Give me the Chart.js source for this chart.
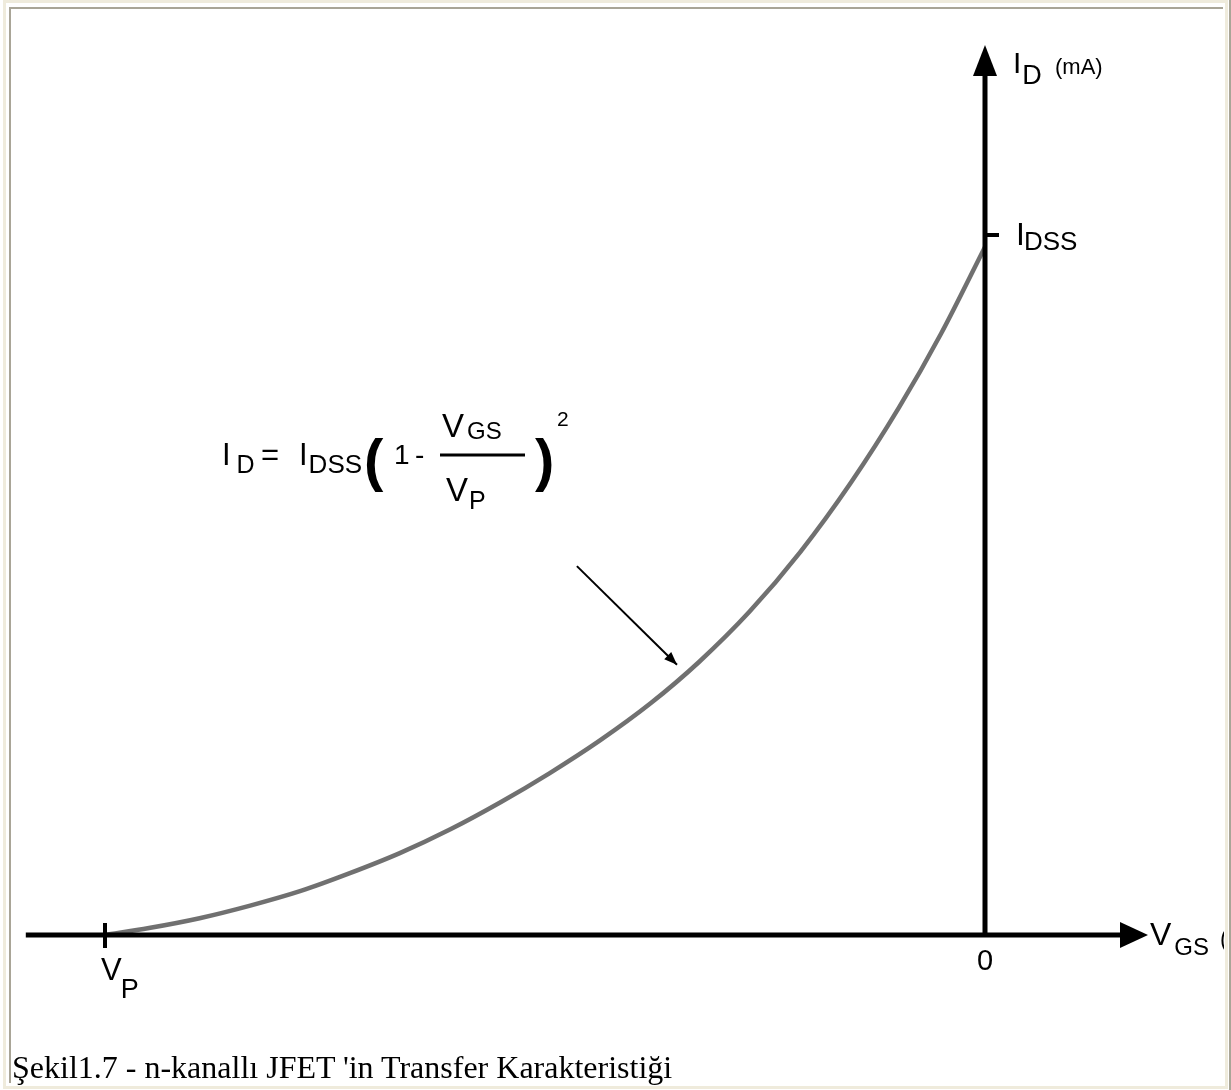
<!DOCTYPE html>
<html>
<head>
<meta charset="utf-8">
<script src="https://cdn.jsdelivr.net/npm/chart.js@4.4.1/dist/chart.umd.min.js"></script>
<style>
  html, body { margin: 0; padding: 0; background: #fff; }
  #wrap { position: relative; width: 1231px; height: 1090px; overflow: hidden; }
  #jfet { position: absolute; left: 0; top: 0; }
  .b { position: absolute; }
  #caption {
    position: absolute; left: 12px; top: 1049px;
    font-family: "Liberation Serif", "Times New Roman", serif;
    font-size: 32px; color: #000; white-space: nowrap;
  }
</style>
</head>
<body>
<div id="wrap">
  <canvas id="jfet" width="1231" height="1090"></canvas>
  <!-- frame -->
  <div class="b" style="left:3px;top:0;width:1225px;height:3px;background:#efebdc"></div>
  <div class="b" style="left:3px;top:0;width:3px;height:1089px;background:#efebdc"></div>
  <div class="b" style="left:9px;top:7px;width:1214px;height:2px;background:#a9a597"></div>
  <div class="b" style="left:9px;top:7px;width:2px;height:1076px;background:#a9a597"></div>
  <div class="b" style="left:1225px;top:3px;width:3px;height:1086px;background:#efebdc"></div>
  <div class="b" style="left:3px;top:1086px;width:1225px;height:3px;background:#efebdc"></div>
  <div class="b" style="left:1229px;top:0;width:2px;height:1090px;background:#a9a597"></div>
  <div id="caption">Şekil1.7 - n-kanallı JFET 'in Transfer Karakteristiği</div>
</div>
<script>
// transfer curve, VGS in volts (VP = -4 V), ID in mA (IDSS = 10 mA)
const vgs = [-4, -3.8, -3.57, -3.34, -3.11, -2.89, -2.66, -2.43, -2.2, -1.98, -1.75, -1.52, -1.3, -1.07, -0.84, -0.61, -0.39, -0.2, 0];
const idCurve = [0, 0.1, 0.24, 0.42, 0.63, 0.88, 1.17, 1.51, 1.9, 2.31, 2.78, 3.31, 3.9, 4.62, 5.47, 6.46, 7.54, 8.59, 9.83];

// symbolic tick labels
const xTickValues = [-4, 0];
const xTickMain = ['V', '0'];
const xTickSub = ['P', ''];
const yTickValues = [10];
const yTickMain = ['I'];
const yTickSub = ['DSS'];

const SANS = '"Liberation Sans", Arial, sans-serif';

function txt(ctx, s, x, y, size, weight) {
  ctx.font = (weight || 'normal') + ' ' + size + 'px ' + SANS;
  ctx.fillText(s, x, y);
  return ctx.measureText(s).width;
}

const axesPlugin = {
  id: 'axesPlugin',
  afterDatasetsDraw(chart) {
    const ctx = chart.ctx;
    const xs = chart.scales.x, ys = chart.scales.y;
    const x0 = xs.getPixelForValue(0), y0 = ys.getPixelForValue(0);
    ctx.save();
    ctx.fillStyle = '#000';
    ctx.strokeStyle = '#000';
    ctx.lineCap = 'butt';

    // horizontal axis with arrow
    ctx.lineWidth = 5;
    ctx.beginPath();
    ctx.moveTo(xs.getPixelForValue(-4.36), y0);
    ctx.lineTo(1124, y0);
    ctx.stroke();
    ctx.beginPath();
    ctx.moveTo(1148, y0);
    ctx.lineTo(1120, y0 - 13);
    ctx.lineTo(1120, y0 + 13);
    ctx.closePath();
    ctx.fill();

    // vertical axis with arrow
    ctx.beginPath();
    ctx.moveTo(x0, y0 + 2);
    ctx.lineTo(x0, 72);
    ctx.stroke();
    ctx.beginPath();
    ctx.moveTo(x0, 45);
    ctx.lineTo(x0 - 12, 76);
    ctx.lineTo(x0 + 12, 76);
    ctx.closePath();
    ctx.fill();

    // x ticks
    ctx.lineWidth = 4;
    xTickValues.forEach((v, i) => {
      const px = xs.getPixelForValue(v);
      if (xTickSub[i]) {
        ctx.beginPath();
        ctx.moveTo(px, y0 - 12);
        ctx.lineTo(px, y0 + 13);
        ctx.stroke();
        const w = txt(ctx, xTickMain[i], px - 4, y0 + 45, 31);
        txt(ctx, xTickSub[i], px - 5 + w, y0 + 63, 27);
      } else {
        ctx.textAlign = 'center';
        txt(ctx, xTickMain[i], px, y0 + 35, 29);
        ctx.textAlign = 'left';
      }
    });

    // y ticks
    yTickValues.forEach((v, i) => {
      const py = ys.getPixelForValue(v);
      ctx.beginPath();
      ctx.moveTo(x0, py);
      ctx.lineTo(x0 + 14, py);
      ctx.stroke();
      const w = txt(ctx, yTickMain[i], x0 + 31, py + 10, 32);
      txt(ctx, yTickSub[i], x0 + 31 + w - 1, py + 15, 26);
    });

    // axis titles
    let w = txt(ctx, 'I', x0 + 28, 73, 30);
    txt(ctx, 'D', x0 + 28 + w + 1, 84, 27);
    txt(ctx, '(mA)', x0 + 70, 74, 22);

    ctx.save();
    ctx.beginPath();
    ctx.rect(0, 0, 1224, 1090);
    ctx.clip();
    w = txt(ctx, 'V', 1150, y0 + 10, 32);
    txt(ctx, 'GS', 1150 + w + 3, y0 + 20, 24);
    txt(ctx, '(V)', 1220, y0 + 12, 23);
    ctx.restore();

    // formula
    w = txt(ctx, 'I', 222, 465, 31);
    txt(ctx, 'D', 222 + w + 6, 473, 25);
    txt(ctx, '=', 261, 465, 31);
    w = txt(ctx, 'I', 299, 465, 31);
    txt(ctx, 'DSS', 299 + w + 1, 473, 26);
    txt(ctx, '(', 364, 480, 58, 'bold');
    txt(ctx, '1', 394, 464, 28);
    txt(ctx, '-', 415, 464, 28);
    ctx.lineWidth = 3;
    ctx.beginPath();
    ctx.moveTo(440, 455);
    ctx.lineTo(525, 455);
    ctx.stroke();
    w = txt(ctx, 'V', 442, 437, 33);
    txt(ctx, 'GS', 442 + w + 3, 439, 24);
    w = txt(ctx, 'V', 446, 501, 33);
    txt(ctx, 'P', 446 + w + 1, 509, 25);
    txt(ctx, ')', 535, 480, 58, 'bold');
    txt(ctx, '2', 557, 426, 21);

    // pointer to the curve
    const ax = xs.getPixelForValue(-1.855), ay = ys.getPixelForValue(5.27);
    const bx = xs.getPixelForValue(-1.4), by = ys.getPixelForValue(3.86);
    ctx.lineWidth = 2;
    ctx.beginPath();
    ctx.moveTo(ax, ay);
    ctx.lineTo(bx, by);
    ctx.stroke();
    const ang = Math.atan2(by - ay, bx - ax);
    ctx.beginPath();
    ctx.moveTo(bx, by);
    ctx.lineTo(bx - 13 * Math.cos(ang) + 5 * Math.sin(ang), by - 13 * Math.sin(ang) - 5 * Math.cos(ang));
    ctx.lineTo(bx - 13 * Math.cos(ang) - 5 * Math.sin(ang), by - 13 * Math.sin(ang) + 5 * Math.cos(ang));
    ctx.closePath();
    ctx.fill();

    ctx.restore();
  }
};

const config = {
  type: 'line',
  data: {
    datasets: [{
      data: vgs.map((v, i) => ({ x: v, y: idCurve[i] })),
      borderColor: 'rgba(100,100,100,0.92)',
      borderWidth: 4.5,
      pointRadius: 0,
      cubicInterpolationMode: 'monotone',
      fill: false
    }]
  },
  options: {
    responsive: false,
    animation: false,
    events: [],
    layout: { padding: { left: 17, right: 92, top: 25, bottom: 15 } },
    plugins: { legend: { display: false }, tooltip: { enabled: false } },
    scales: {
      x: { type: 'linear', min: -4.4, max: 0.7, display: false },
      y: { type: 'linear', min: -2, max: 13, display: false }
    }
  },
  plugins: [axesPlugin]
};

const jfetChart = new Chart(document.getElementById('jfet'), config);
</script>
</body>
</html>
